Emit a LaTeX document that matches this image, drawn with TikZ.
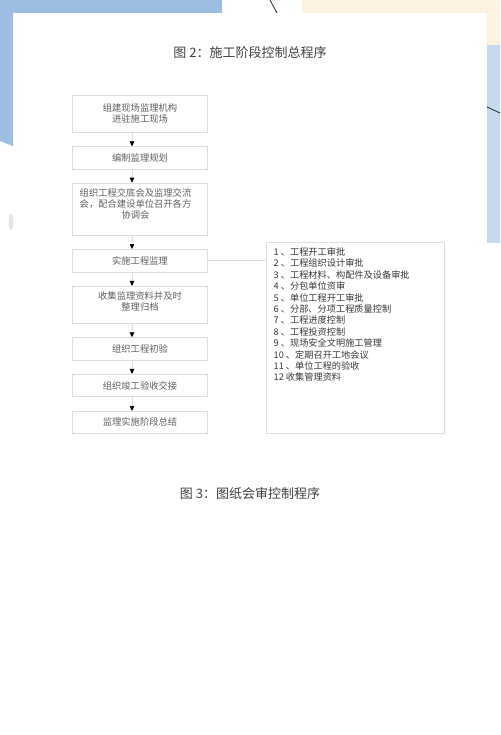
\documentclass[tikz,border=0pt]{standalone}
\usepackage{fontspec}
\newfontfamily\cjk{Noto Sans CJK SC}
\usetikzlibrary{arrows.meta}
\definecolor{pageblue}{RGB}{158,189,226}
\definecolor{peach}{RGB}{253,241,224}
\definecolor{sideblue}{RGB}{197,219,237}
\definecolor{boxline}{RGB}{222,222,222}
\definecolor{boxtext}{RGB}{95,95,95}
\definecolor{listtext}{RGB}{55,55,55}
\tikzset{
  stagebox/.style={draw=boxline, line width=0.7pt, minimum width=135pt, inner sep=0pt,
    align=center, text=boxtext, font=\cjk\fontsize{9.3}{10.8}\selectfont},
  stagetext/.style={inner sep=0pt, align=center, text=boxtext, font=\cjk\fontsize{9.3}{10.8}\selectfont},
  flow/.style={draw=boxline, line width=0.7pt, -{Triangle[width=4.5pt,length=5pt,color=black]}},
  caption/.style={font=\cjk\fontsize{13}{15}\selectfont, text=black!75},
}
\begin{document}
\begin{tikzpicture}[x=1pt,y=-1pt]
    \useasboundingbox (0,0) rectangle (500,735);

    % Background
    \fill[pageblue] (0,0) -- (222,0) -- (222,13) -- (13,13) -- (13,146) -- (0,141) -- cycle;
    \fill[peach] (302,0) -- (500,0) -- (500,45) -- (487,45) -- (487,13) -- (302,13) -- cycle;
    \fill[sideblue] (487,45) rectangle (500,243);
    \draw[black!85, line width=0.8pt] (270,0) .. controls (273,6) .. (277,13);
    \draw[black!85, line width=0.8pt] (487,107) -- (500,113);
    \fill[black!10] (11,222) ellipse (2.5pt and 8pt);

    % Captions
    \node[caption] (title2) at (250,52.7) {图 2：施工阶段控制总程序};
    \node[caption] (title3) at (250,493.3) {图 3：图纸会审控制程序};

    % Stages
    \node[stagebox, minimum height=37pt] (s1) at (140,113.8) {组建现场监理机构\\进驻施工现场};
    \node[stagebox, minimum height=22.6pt] (s2) at (140,158) {编制监理规划};
    \node[stagebox, minimum height=52.3pt] (s3) at (140,209.2) {};
    \node[stagetext] (t3) at ([xshift=-4.5pt,yshift=5pt]s3.center) {组织工程交底会及监理交流\\会，配合建设单位召开各方\\协调会};
    \node[stagebox, minimum height=22.7pt] (s4) at (140,260.7) {实施工程监理};
    \node[stagebox, minimum height=37pt] (s5) at (140,304.8) {};
    \node[stagetext] (t5) at ([yshift=3.5pt]s5.center) {收集监理资料并及时\\整理归档};
    \node[stagebox, minimum height=22.3pt] (s6) at (140,348.8) {组织工程初验};
    \node[stagebox, minimum height=22.4pt] (s7) at (140,385.5) {组织竣工验收交接};
    \node[stagebox, minimum height=22pt] (s8) at (140,422.3) {监理实施阶段总结};

    % Arrows
    \foreach \a/\b in {s1/s2,s2/s3,s3/s4,s4/s5,s5/s6,s6/s7,s7/s8}
        \draw[flow] ([xshift=-8pt]\a.south) -- ([xshift=-8pt]\b.north);

    % Task list
    \node[draw=boxline, line width=0.7pt, minimum width=177.6pt, minimum height=191pt, inner sep=0pt] (tasks) at (355.5,337.8) {};
    \node[anchor=north west, align=left, inner sep=0pt, text=listtext, font=\cjk\fontsize{9.2}{11.4}\selectfont] (tasklist) at (273.5,247.5)
        {1 、工程开工审批\\
         2 、工程组织设计审批\\
         3 、工程材料、构配件及设备审批\\
         4 、分包单位资审\\
         5 、单位工程开工审批\\
         6 、分部、分项工程质量控制\\
         7 、工程进度控制\\
         8 、工程投资控制\\
         9 、现场安全文明施工管理\\
         10 、定期召开工地会议\\
         11 、单位工程的验收\\
         12 收集管理资料};
    \draw[draw=boxline, line width=0.7pt] (s4.east) -- (s4.east -| tasks.west);
\end{tikzpicture}
\end{document}
